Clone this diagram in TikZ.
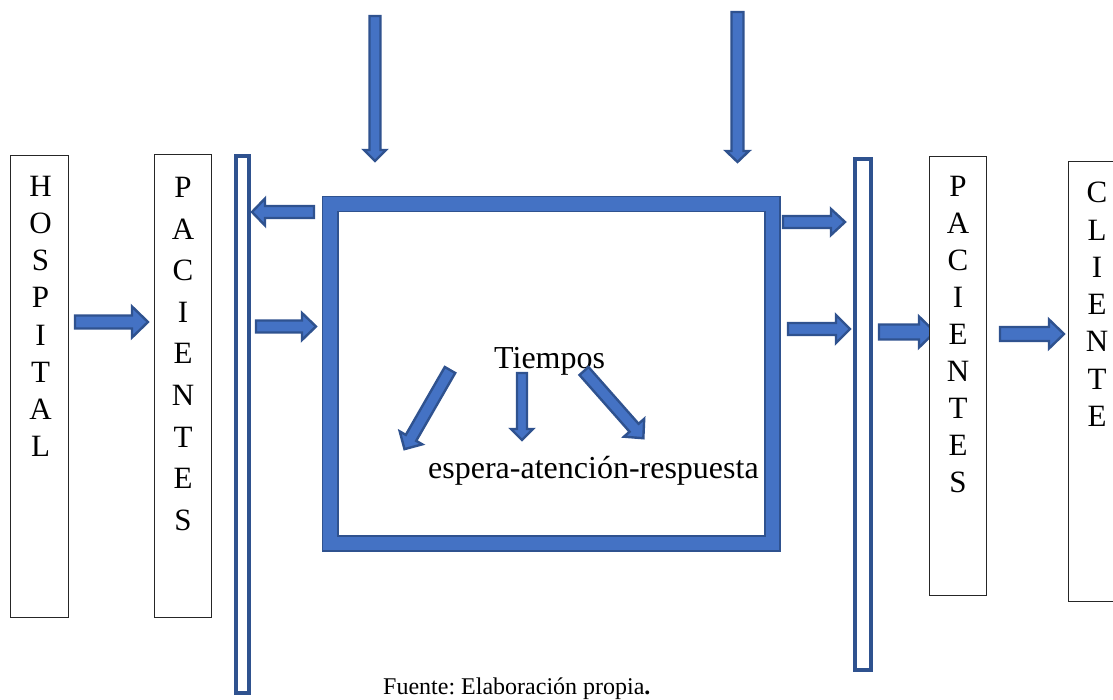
\documentclass[tikz,border=0pt]{standalone}
\usepackage{fontspec}
\setmainfont{Liberation Serif}
\usetikzlibrary{calc}
\definecolor{blockfill}{HTML}{4472C4}
\definecolor{blockline}{HTML}{2F528F}
\tikzset{
  x=1pt,y=-1pt,
  blockshape/.style={draw=blockline,line width=2.4pt,fill=blockfill,line join=miter},
  letterbox/.style={draw=black!85,line width=1pt,fill=white,inner sep=0pt,outer sep=0pt,anchor=north west},
  thinbar/.style={draw=blockline,line width=4pt,fill=white,inner sep=0pt,outer sep=0pt,anchor=north west},
  frame/.style={fill=blockfill,draw=blockline,line width=1.8pt,even odd rule},
  letters/.style={font=\fontsize{31}{31}\selectfont,inner sep=0pt,anchor=base,align=center},
  bigtext/.style={font=\fontsize{32}{32}\selectfont,inner sep=0pt,anchor=base west},
  foot/.style={font=\fontsize{24}{24}\selectfont\frenchspacing,inner sep=0pt,anchor=base west}
}
% \blockarrow{name}{x1,y1}{x2,y2}{shaft}{head width}{head length}; sizes are outer sizes
\newcommand{\blockarrow}[6]{%
  \coordinate (#1a) at (#2);
  \coordinate (#1b) at ($(#3)!1pt!(#2)$);
  \coordinate (#1h) at ($(#1b)!#6pt-1pt!(#1a)$);
  \draw[blockshape]
    ($(#1a)!#4pt/2-1pt!90:(#1b)$) --
    ($(#1h)!#4pt/2-1pt!-90:(#1a)$) --
    ($(#1h)!#5pt/2-1.5pt!-90:(#1a)$) --
    (#1b) --
    ($(#1h)!#5pt/2-1.5pt!90:(#1a)$) --
    ($(#1h)!#4pt/2-1pt!90:(#1a)$) --
    ($(#1a)!#4pt/2-1pt!-90:(#1b)$) -- cycle;
}
\begin{document}
\begin{tikzpicture}
\useasboundingbox (0,0) rectangle (1113,700);
\clip (0,0) rectangle (1113,700);
% arrows that sit beneath boxes
\blockarrow{aA}{879,332}{936,332}{17}{34}{17}
\blockarrow{aB}{1000,334}{1065,334}{16}{32}{16}
\blockarrow{aC}{75,322}{149,322}{15}{34}{17}
% letter boxes
\node[letterbox,minimum width=57.6pt,minimum height=462pt] (hospital) at (10.4,155.3) {};
\node[letterbox,minimum width=57.6pt,minimum height=462pt] (pac1) at (154.2,155) {};
\node[letterbox,minimum width=57.6pt,minimum height=439pt] (pac2) at (929.2,156.6) {};
\node[letterbox,minimum width=60pt,minimum height=439pt] (cliente) at (1068,162) {};
% letters
\foreach \ch [count=\i from 0] in {H,O,S,P,I,T,A,L}
  \node[letters] (h\i) at (40.5,197+37*\i) {\ch};
\foreach \ch [count=\i from 0] in {P,A,C,I,E,N,T,E,S}
  \node[letters] (p\i) at (183,197.5+41.6*\i) {\ch};
\foreach \ch [count=\i from 0] in {P,A,C,I,E,N,T,E,S}
  \node[letters] (q\i) at (958,196.5+37*\i) {\ch};
\foreach \ch [count=\i from 0] in {C,L,I,E,N,T,E}
  \node[letters] (c\i) at (1097,203+37.2*\i) {\ch};
% bars
\node[thinbar,minimum width=13pt,minimum height=537pt] (barL) at (236.3,156) {};
\node[thinbar,minimum width=15.5pt,minimum height=510pt] (barR) at (855,159.5) {};
% big frame
\path[frame] (322.5,196.5) rectangle (780,551) (338,211.5) rectangle (765,536);
% texts
\node[bigtext] (tiempos) at (494,368) {Tiempos};
\node[bigtext] (espera) at (428,478) {espera-atención-respuesta};
\node[foot] (fuente) at (383,694.5) {Fuente: Elaboración propia\textbf{.}};
% other arrows
\blockarrow{a1}{375,16}{375,162}{13}{25}{12}
\blockarrow{a2}{737.5,12}{737.5,163}{14}{26}{12}
\blockarrow{a3}{314,212}{251,212}{14}{30}{14}
\blockarrow{a4}{256,326.5}{317,326.5}{14}{30}{15}
\blockarrow{a5}{783,222}{846,222}{14}{29}{15}
\blockarrow{a6}{788,329}{851,329}{14}{31}{15}
\blockarrow{a7}{450,370}{404,450}{14}{29}{14}
\blockarrow{a8}{522,373}{522,441}{12}{25}{12}
\blockarrow{a9}{584,371}{644,439}{14}{30}{15}
\end{tikzpicture}
\end{document}
